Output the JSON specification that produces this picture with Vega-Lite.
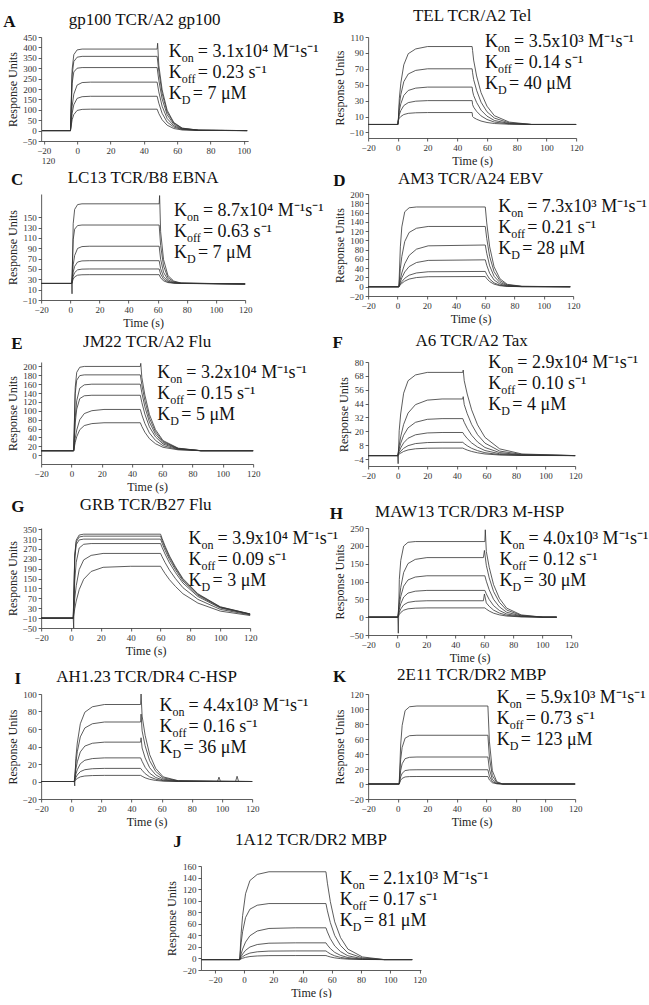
{
"$schema":"https://vega.github.io/schema/vega-lite/v6.json",
"background":"white",
"padding":{"left":3,"top":6,"right":0,"bottom":0},
"config":{
 "font":"Liberation Serif",
 "view":{"stroke":null},
 "axis":{"grid":false,"domainColor":"#333","domainWidth":0.8,"tickColor":"#333","tickSize":3,"tickWidth":0.8,"labelFont":"Liberation Serif","labelFontSize":9,"labelColor":"#333","labelPadding":2,"labelFlush":false,"labelOverlap":false,"labelBound":false,"titleFont":"Liberation Serif","titleFontSize":12,"titleFontWeight":"normal","titleColor":"#222","titlePadding":3},
 "title":{"font":"Liberation Serif","fontSize":17,"fontWeight":"normal","color":"#111","offset":-16,"frame":"group","anchor":"middle"},
 "line":{"color":"#333","strokeWidth":0.8},
 "text":{"font":"Liberation Serif","color":"#111","align":"left","baseline":"alphabetic","fontSize":18,"lineHeight":21}
},
"datasets":{
"A":[{"c":1,"t":-21,"y":0},{"c":1,"t":-4,"y":0},{"c":1,"t":-3,"y":294},{"c":1,"t":-2,"y":365},{"c":1,"t":0,"y":388},{"c":1,"t":3,"y":392},{"c":1,"t":48,"y":392},{"c":1,"t":48.3,"y":420},{"c":1,"t":49,"y":314},{"c":1,"t":51,"y":196},{"c":1,"t":54,"y":98},{"c":1,"t":58,"y":39},{"c":1,"t":63,"y":12},{"c":1,"t":73,"y":2},{"c":1,"t":102,"y":0},
{"c":2,"t":-21,"y":0},{"c":2,"t":-4,"y":0},{"c":2,"t":-3,"y":268},{"c":2,"t":-2,"y":332},{"c":2,"t":0,"y":353},{"c":2,"t":3,"y":357},{"c":2,"t":48,"y":357},{"c":2,"t":49,"y":286},{"c":2,"t":51,"y":179},{"c":2,"t":54,"y":89},{"c":2,"t":58,"y":36},{"c":2,"t":63,"y":11},{"c":2,"t":73,"y":2},{"c":2,"t":102,"y":0},
{"c":3,"t":-21,"y":0},{"c":3,"t":-4,"y":0},{"c":3,"t":-3,"y":227},{"c":3,"t":-2,"y":282},{"c":3,"t":0,"y":300},{"c":3,"t":3,"y":303},{"c":3,"t":48,"y":303},{"c":3,"t":49,"y":242},{"c":3,"t":51,"y":152},{"c":3,"t":54,"y":76},{"c":3,"t":58,"y":30},{"c":3,"t":63,"y":9},{"c":3,"t":73,"y":2},{"c":3,"t":102,"y":0},
{"c":4,"t":-21,"y":0},{"c":4,"t":-4,"y":0},{"c":4,"t":-3,"y":117},{"c":4,"t":-2,"y":175},{"c":4,"t":0,"y":219},{"c":4,"t":3,"y":231},{"c":4,"t":8,"y":233},{"c":4,"t":48,"y":233},{"c":4,"t":49,"y":186},{"c":4,"t":51,"y":117},{"c":4,"t":54,"y":58},{"c":4,"t":58,"y":23},{"c":4,"t":63,"y":7},{"c":4,"t":73,"y":1},{"c":4,"t":102,"y":0},
{"c":5,"t":-21,"y":0},{"c":5,"t":-4,"y":0},{"c":5,"t":-3,"y":83},{"c":5,"t":-2,"y":124},{"c":5,"t":0,"y":155},{"c":5,"t":3,"y":163},{"c":5,"t":8,"y":165},{"c":5,"t":48,"y":165},{"c":5,"t":49,"y":132},{"c":5,"t":51,"y":83},{"c":5,"t":54,"y":41},{"c":5,"t":58,"y":17},{"c":5,"t":63,"y":5},{"c":5,"t":73,"y":1},{"c":5,"t":102,"y":0},
{"c":6,"t":-21,"y":0},{"c":6,"t":-4,"y":0},{"c":6,"t":-3,"y":52},{"c":6,"t":-2,"y":77},{"c":6,"t":0,"y":97},{"c":6,"t":3,"y":102},{"c":6,"t":8,"y":103},{"c":6,"t":48,"y":103},{"c":6,"t":49,"y":82},{"c":6,"t":51,"y":52},{"c":6,"t":54,"y":26},{"c":6,"t":58,"y":10},{"c":6,"t":63,"y":3},{"c":6,"t":73,"y":1},{"c":6,"t":102,"y":0}],
"B":[{"c":1,"t":-20,"y":0},{"c":1,"t":0,"y":0},{"c":1,"t":0.3,"y":5},{"c":1,"t":1,"y":33},{"c":1,"t":2,"y":52},{"c":1,"t":4,"y":75},{"c":1,"t":7,"y":89},{"c":1,"t":12,"y":95},{"c":1,"t":20,"y":98},{"c":1,"t":50,"y":98},{"c":1,"t":50.3,"y":93},{"c":1,"t":51,"y":81},{"c":1,"t":53,"y":61},{"c":1,"t":56,"y":40},{"c":1,"t":60,"y":23},{"c":1,"t":65,"y":11},{"c":1,"t":75,"y":3},{"c":1,"t":90,"y":0},{"c":1,"t":120,"y":0},
{"c":2,"t":-20,"y":0},{"c":2,"t":0,"y":0},{"c":2,"t":0.3,"y":5},{"c":2,"t":1,"y":24.5},{"c":2,"t":2,"y":37.5},{"c":2,"t":4,"y":53.8},{"c":2,"t":7,"y":63.5},{"c":2,"t":12,"y":68},{"c":2,"t":20,"y":70},{"c":2,"t":50,"y":70},{"c":2,"t":50.3,"y":65},{"c":2,"t":51,"y":56.5},{"c":2,"t":53,"y":43},{"c":2,"t":56,"y":28},{"c":2,"t":60,"y":16},{"c":2,"t":65,"y":8},{"c":2,"t":75,"y":2},{"c":2,"t":90,"y":0},{"c":2,"t":120,"y":0},
{"c":3,"t":-20,"y":0},{"c":3,"t":0,"y":0},{"c":3,"t":0.3,"y":5},{"c":3,"t":1,"y":17.6},{"c":3,"t":2,"y":26},{"c":3,"t":4,"y":36.5},{"c":3,"t":7,"y":42.8},{"c":3,"t":12,"y":45.7},{"c":3,"t":20,"y":47},{"c":3,"t":50,"y":47},{"c":3,"t":50.3,"y":42},{"c":3,"t":51,"y":36.5},{"c":3,"t":53,"y":27.7},{"c":3,"t":56,"y":18},{"c":3,"t":60,"y":10.5},{"c":3,"t":65,"y":5},{"c":3,"t":75,"y":1.3},{"c":3,"t":90,"y":0},{"c":3,"t":120,"y":0},
{"c":4,"t":-20,"y":0},{"c":4,"t":0,"y":0},{"c":4,"t":0.3,"y":5},{"c":4,"t":1,"y":12.5},{"c":4,"t":2,"y":17.5},{"c":4,"t":4,"y":23.8},{"c":4,"t":7,"y":27.5},{"c":4,"t":12,"y":29.3},{"c":4,"t":20,"y":30},{"c":4,"t":50,"y":30},{"c":4,"t":50.3,"y":25},{"c":4,"t":51,"y":21.8},{"c":4,"t":53,"y":16.5},{"c":4,"t":56,"y":10.8},{"c":4,"t":60,"y":6.3},{"c":4,"t":65,"y":3},{"c":4,"t":75,"y":0.8},{"c":4,"t":90,"y":0},{"c":4,"t":120,"y":0},
{"c":5,"t":-20,"y":0},{"c":5,"t":0,"y":0},{"c":5,"t":0.3,"y":5},{"c":5,"t":1,"y":8},{"c":5,"t":2,"y":10},{"c":5,"t":4,"y":12.5},{"c":5,"t":7,"y":14},{"c":5,"t":12,"y":14.7},{"c":5,"t":20,"y":15},{"c":5,"t":50,"y":15},{"c":5,"t":50.3,"y":10},{"c":5,"t":51,"y":8.7},{"c":5,"t":53,"y":6.6},{"c":5,"t":56,"y":4.3},{"c":5,"t":60,"y":2.5},{"c":5,"t":65,"y":1.2},{"c":5,"t":75,"y":0.3},{"c":5,"t":90,"y":0},{"c":5,"t":120,"y":0}],
"C":[{"c":1,"t":-20,"y":22},{"c":1,"t":1,"y":22},{"c":1,"t":1.2,"y":2},{"c":1,"t":2,"y":137.5},{"c":1,"t":3,"y":165.2},{"c":1,"t":5,"y":174.5},{"c":1,"t":8,"y":176},{"c":1,"t":61,"y":176},{"c":1,"t":61.3,"y":192},{"c":1,"t":62,"y":122},{"c":1,"t":64,"y":68.2},{"c":1,"t":67,"y":37.4},{"c":1,"t":71,"y":26.6},{"c":1,"t":76,"y":22.8},{"c":1,"t":120,"y":21},
{"c":2,"t":-20,"y":22},{"c":2,"t":1,"y":22},{"c":2,"t":2,"y":106.8},{"c":2,"t":3,"y":127},{"c":2,"t":5,"y":133.9},{"c":2,"t":8,"y":135},{"c":2,"t":61,"y":135},{"c":2,"t":62,"y":95.5},{"c":2,"t":64,"y":55.9},{"c":2,"t":67,"y":33.3},{"c":2,"t":71,"y":25.4},{"c":2,"t":76,"y":22.6},{"c":2,"t":120,"y":21},
{"c":3,"t":-20,"y":22},{"c":3,"t":1,"y":22},{"c":3,"t":2,"y":58},{"c":3,"t":3,"y":76},{"c":3,"t":5,"y":89.7},{"c":3,"t":8,"y":93.3},{"c":3,"t":13,"y":94},{"c":3,"t":61,"y":94},{"c":3,"t":62,"y":68.8},{"c":3,"t":64,"y":43.6},{"c":3,"t":67,"y":29.2},{"c":3,"t":71,"y":24.2},{"c":3,"t":76,"y":22.4},{"c":3,"t":120,"y":21},
{"c":4,"t":-20,"y":22},{"c":4,"t":1,"y":22},{"c":4,"t":2,"y":44},{"c":4,"t":3,"y":55},{"c":4,"t":5,"y":63.4},{"c":4,"t":8,"y":65.6},{"c":4,"t":13,"y":66},{"c":4,"t":61,"y":66},{"c":4,"t":62,"y":50.6},{"c":4,"t":64,"y":35.2},{"c":4,"t":67,"y":26.4},{"c":4,"t":71,"y":23.3},{"c":4,"t":76,"y":22.2},{"c":4,"t":120,"y":21},
{"c":5,"t":-20,"y":22},{"c":5,"t":1,"y":22},{"c":5,"t":2,"y":36},{"c":5,"t":3,"y":43},{"c":5,"t":5,"y":48.3},{"c":5,"t":8,"y":49.7},{"c":5,"t":13,"y":50},{"c":5,"t":61,"y":50},{"c":5,"t":62,"y":40.2},{"c":5,"t":64,"y":30.4},{"c":5,"t":67,"y":24.8},{"c":5,"t":71,"y":22.8},{"c":5,"t":76,"y":22.1},{"c":5,"t":120,"y":21},
{"c":6,"t":-20,"y":22},{"c":6,"t":1,"y":22},{"c":6,"t":2,"y":30.5},{"c":6,"t":3,"y":34.8},{"c":6,"t":5,"y":38},{"c":6,"t":8,"y":38.8},{"c":6,"t":13,"y":39},{"c":6,"t":61,"y":39},{"c":6,"t":62,"y":33},{"c":6,"t":64,"y":27},{"c":6,"t":67,"y":23.7},{"c":6,"t":71,"y":22.5},{"c":6,"t":76,"y":22},{"c":6,"t":120,"y":21}],
"D":[{"c":1,"t":-20,"y":0},{"c":1,"t":1,"y":0},{"c":1,"t":2,"y":86},{"c":1,"t":3,"y":129},{"c":1,"t":5,"y":161.7},{"c":1,"t":8,"y":170.3},{"c":1,"t":13,"y":172},{"c":1,"t":60,"y":172},{"c":1,"t":61,"y":137.6},{"c":1,"t":63,"y":86},{"c":1,"t":66,"y":43},{"c":1,"t":70,"y":17.2},{"c":1,"t":75,"y":5.2},{"c":1,"t":85,"y":0.9},{"c":1,"t":118,"y":0},
{"c":2,"t":-20,"y":0},{"c":2,"t":1,"y":0},{"c":2,"t":2,"y":39},{"c":2,"t":3,"y":65},{"c":2,"t":5,"y":97.5},{"c":2,"t":8,"y":117},{"c":2,"t":13,"y":126.1},{"c":2,"t":21,"y":130},{"c":2,"t":60,"y":130},{"c":2,"t":61,"y":104},{"c":2,"t":63,"y":65},{"c":2,"t":66,"y":32.5},{"c":2,"t":70,"y":13},{"c":2,"t":75,"y":3.9},{"c":2,"t":85,"y":0.7},{"c":2,"t":118,"y":0},
{"c":3,"t":-20,"y":0},{"c":3,"t":1,"y":0},{"c":3,"t":2,"y":16.2},{"c":3,"t":3,"y":29.7},{"c":3,"t":5,"y":49.5},{"c":3,"t":8,"y":67.5},{"c":3,"t":13,"y":81},{"c":3,"t":21,"y":88.2},{"c":3,"t":60,"y":90},{"c":3,"t":61,"y":72},{"c":3,"t":63,"y":45},{"c":3,"t":66,"y":22.5},{"c":3,"t":70,"y":9},{"c":3,"t":75,"y":2.7},{"c":3,"t":85,"y":0.5},{"c":3,"t":118,"y":0},
{"c":4,"t":-20,"y":0},{"c":4,"t":1,"y":0},{"c":4,"t":2,"y":10.4},{"c":4,"t":3,"y":19.1},{"c":4,"t":5,"y":31.9},{"c":4,"t":8,"y":43.5},{"c":4,"t":13,"y":52.2},{"c":4,"t":21,"y":56.8},{"c":4,"t":60,"y":58},{"c":4,"t":61,"y":46.4},{"c":4,"t":63,"y":29},{"c":4,"t":66,"y":14.5},{"c":4,"t":70,"y":5.8},{"c":4,"t":75,"y":1.7},{"c":4,"t":85,"y":0.3},{"c":4,"t":118,"y":0},
{"c":5,"t":-20,"y":0},{"c":5,"t":1,"y":0},{"c":5,"t":2,"y":5.9},{"c":5,"t":3,"y":10.9},{"c":5,"t":5,"y":18.2},{"c":5,"t":8,"y":24.8},{"c":5,"t":13,"y":29.7},{"c":5,"t":21,"y":32.3},{"c":5,"t":60,"y":33},{"c":5,"t":61,"y":26.4},{"c":5,"t":63,"y":16.5},{"c":5,"t":66,"y":8.3},{"c":5,"t":70,"y":3.3},{"c":5,"t":75,"y":1},{"c":5,"t":85,"y":0.2},{"c":5,"t":118,"y":0},
{"c":6,"t":-20,"y":0},{"c":6,"t":1,"y":0},{"c":6,"t":2,"y":4},{"c":6,"t":3,"y":7.3},{"c":6,"t":5,"y":12.1},{"c":6,"t":8,"y":16.5},{"c":6,"t":13,"y":19.8},{"c":6,"t":21,"y":21.6},{"c":6,"t":60,"y":22},{"c":6,"t":61,"y":17.6},{"c":6,"t":63,"y":11},{"c":6,"t":66,"y":5.5},{"c":6,"t":70,"y":2.2},{"c":6,"t":75,"y":0.7},{"c":6,"t":85,"y":0.1},{"c":6,"t":118,"y":0}],
"E":[{"c":1,"t":-20,"y":10},{"c":1,"t":1.5,"y":10},{"c":1,"t":2.5,"y":152.5},{"c":1,"t":3.5,"y":186.7},{"c":1,"t":5.5,"y":198.1},{"c":1,"t":8.5,"y":200},{"c":1,"t":45.5,"y":200},{"c":1,"t":45.8,"y":207},{"c":1,"t":46.5,"y":175.3},{"c":1,"t":48.5,"y":135.4},{"c":1,"t":51.5,"y":91.7},{"c":1,"t":55.5,"y":57.5},{"c":1,"t":60.5,"y":32.8},{"c":1,"t":70.5,"y":15.7},{"c":1,"t":85.5,"y":10},{"c":1,"t":120,"y":10},
{"c":2,"t":-20,"y":10},{"c":2,"t":1.5,"y":10},{"c":2,"t":2.5,"y":138.3},{"c":2,"t":3.5,"y":169},{"c":2,"t":5.5,"y":179.3},{"c":2,"t":8.5,"y":181},{"c":2,"t":45.5,"y":181},{"c":2,"t":46.5,"y":158.8},{"c":2,"t":48.5,"y":122.9},{"c":2,"t":51.5,"y":83.5},{"c":2,"t":55.5,"y":52.8},{"c":2,"t":60.5,"y":30.5},{"c":2,"t":70.5,"y":15.1},{"c":2,"t":85.5,"y":10},{"c":2,"t":120,"y":10},
{"c":3,"t":-20,"y":10},{"c":3,"t":1.5,"y":10},{"c":3,"t":2.5,"y":85},{"c":3,"t":3.5,"y":122.5},{"c":3,"t":5.5,"y":151},{"c":3,"t":8.5,"y":158.5},{"c":3,"t":13.5,"y":160},{"c":3,"t":45.5,"y":160},{"c":3,"t":46.5,"y":140.5},{"c":3,"t":48.5,"y":109},{"c":3,"t":51.5,"y":74.5},{"c":3,"t":55.5,"y":47.5},{"c":3,"t":60.5,"y":28},{"c":3,"t":70.5,"y":14.5},{"c":3,"t":85.5,"y":10},{"c":3,"t":120,"y":10},
{"c":4,"t":-20,"y":10},{"c":4,"t":1.5,"y":10},{"c":4,"t":2.5,"y":72.5},{"c":4,"t":3.5,"y":103.8},{"c":4,"t":5.5,"y":127.5},{"c":4,"t":8.5,"y":133.8},{"c":4,"t":13.5,"y":135},{"c":4,"t":45.5,"y":135},{"c":4,"t":46.5,"y":118.8},{"c":4,"t":48.5,"y":92.5},{"c":4,"t":51.5,"y":63.8},{"c":4,"t":55.5,"y":41.3},{"c":4,"t":60.5,"y":25},{"c":4,"t":70.5,"y":13.8},{"c":4,"t":85.5,"y":10},{"c":4,"t":120,"y":10},
{"c":5,"t":-20,"y":10},{"c":5,"t":1.5,"y":10},{"c":5,"t":2.5,"y":37.9},{"c":5,"t":3.5,"y":56.5},{"c":5,"t":5.5,"y":79.8},{"c":5,"t":8.5,"y":93.7},{"c":5,"t":13.5,"y":100.2},{"c":5,"t":21.5,"y":103},{"c":5,"t":45.5,"y":103},{"c":5,"t":46.5,"y":90.9},{"c":5,"t":48.5,"y":71.4},{"c":5,"t":51.5,"y":50},{"c":5,"t":55.5,"y":33.3},{"c":5,"t":60.5,"y":21.2},{"c":5,"t":70.5,"y":12.8},{"c":5,"t":85.5,"y":10},{"c":5,"t":120,"y":10},
{"c":6,"t":-20,"y":10},{"c":6,"t":1.5,"y":10},{"c":6,"t":2.5,"y":28.9},{"c":6,"t":3.5,"y":41.5},{"c":6,"t":5.5,"y":57.3},{"c":6,"t":8.5,"y":66.7},{"c":6,"t":13.5,"y":71.1},{"c":6,"t":21.5,"y":73},{"c":6,"t":45.5,"y":73},{"c":6,"t":46.5,"y":64.8},{"c":6,"t":48.5,"y":51.6},{"c":6,"t":51.5,"y":37.1},{"c":6,"t":55.5,"y":25.8},{"c":6,"t":60.5,"y":17.6},{"c":6,"t":70.5,"y":11.9},{"c":6,"t":85.5,"y":10},{"c":6,"t":120,"y":10}],
"F":[{"c":1,"t":-20,"y":-1},{"c":1,"t":0,"y":-1},{"c":1,"t":0.3,"y":-8},{"c":1,"t":1,"y":20.6},{"c":1,"t":2,"y":35},{"c":1,"t":4,"y":53},{"c":1,"t":7,"y":63.8},{"c":1,"t":12,"y":68.8},{"c":1,"t":20,"y":71},{"c":1,"t":44,"y":71},{"c":1,"t":44.3,"y":73},{"c":1,"t":45,"y":63.8},{"c":1,"t":47,"y":52.3},{"c":1,"t":50,"y":38.6},{"c":1,"t":54,"y":25.6},{"c":1,"t":59,"y":14.8},{"c":1,"t":69,"y":4.8},{"c":1,"t":84,"y":0.4},{"c":1,"t":120,"y":-1},
{"c":2,"t":-20,"y":-1},{"c":2,"t":0,"y":-1},{"c":2,"t":1,"y":7.8},{"c":2,"t":2,"y":15.2},{"c":2,"t":4,"y":26},{"c":2,"t":7,"y":35.8},{"c":2,"t":12,"y":43.1},{"c":2,"t":20,"y":47},{"c":2,"t":30,"y":48},{"c":2,"t":44,"y":48},{"c":2,"t":44.3,"y":50},{"c":2,"t":45,"y":43.1},{"c":2,"t":47,"y":35.3},{"c":2,"t":50,"y":26},{"c":2,"t":54,"y":17.1},{"c":2,"t":59,"y":9.8},{"c":2,"t":69,"y":2.9},{"c":2,"t":84,"y":0},{"c":2,"t":120,"y":-1},
{"c":3,"t":-20,"y":-1},{"c":3,"t":0,"y":-1},{"c":3,"t":1,"y":4.8},{"c":3,"t":2,"y":9.6},{"c":3,"t":4,"y":16.6},{"c":3,"t":7,"y":23},{"c":3,"t":12,"y":27.8},{"c":3,"t":20,"y":30.4},{"c":3,"t":30,"y":31},{"c":3,"t":44,"y":31},{"c":3,"t":45,"y":27.8},{"c":3,"t":47,"y":22.7},{"c":3,"t":50,"y":16.6},{"c":3,"t":54,"y":10.8},{"c":3,"t":59,"y":6},{"c":3,"t":69,"y":1.6},{"c":3,"t":84,"y":-0.4},{"c":3,"t":120,"y":-1},
{"c":4,"t":-20,"y":-1},{"c":4,"t":0,"y":-1},{"c":4,"t":1,"y":2.6},{"c":4,"t":2,"y":5.6},{"c":4,"t":4,"y":10},{"c":4,"t":7,"y":14},{"c":4,"t":12,"y":17},{"c":4,"t":20,"y":18.6},{"c":4,"t":30,"y":19},{"c":4,"t":44,"y":19},{"c":4,"t":45,"y":17},{"c":4,"t":47,"y":13.8},{"c":4,"t":50,"y":10},{"c":4,"t":54,"y":6.4},{"c":4,"t":59,"y":3.4},{"c":4,"t":69,"y":0.6},{"c":4,"t":84,"y":-0.6},{"c":4,"t":120,"y":-1},
{"c":5,"t":-20,"y":-1},{"c":5,"t":0,"y":-1},{"c":5,"t":1,"y":1.1},{"c":5,"t":2,"y":2.8},{"c":5,"t":4,"y":5.3},{"c":5,"t":7,"y":7.6},{"c":5,"t":12,"y":9.4},{"c":5,"t":20,"y":10.3},{"c":5,"t":30,"y":10.5},{"c":5,"t":44,"y":10.5},{"c":5,"t":45,"y":9.4},{"c":5,"t":47,"y":7.5},{"c":5,"t":50,"y":5.3},{"c":5,"t":54,"y":3.3},{"c":5,"t":59,"y":1.5},{"c":5,"t":69,"y":-0.1},{"c":5,"t":84,"y":-0.8},{"c":5,"t":120,"y":-1},
{"c":6,"t":-20,"y":-1},{"c":6,"t":0,"y":-1},{"c":6,"t":1,"y":0.2},{"c":6,"t":2,"y":1.1},{"c":6,"t":4,"y":2.6},{"c":6,"t":7,"y":3.9},{"c":6,"t":12,"y":4.9},{"c":6,"t":20,"y":5.4},{"c":6,"t":30,"y":5.5},{"c":6,"t":44,"y":5.5},{"c":6,"t":45,"y":4.9},{"c":6,"t":47,"y":3.8},{"c":6,"t":50,"y":2.6},{"c":6,"t":54,"y":1.4},{"c":6,"t":59,"y":0.4},{"c":6,"t":69,"y":-0.5},{"c":6,"t":84,"y":-0.9},{"c":6,"t":120,"y":-1}],
"G":[{"c":1,"t":-20,"y":-10},{"c":1,"t":1.5,"y":-10},{"c":1,"t":1.8,"y":-50},{"c":1,"t":2.5,"y":245},{"c":1,"t":3.5,"y":306.2},{"c":1,"t":5.5,"y":326.6},{"c":1,"t":8.5,"y":330},{"c":1,"t":60,"y":330},{"c":1,"t":61,"y":313},{"c":1,"t":63,"y":282.4},{"c":1,"t":66,"y":241.6},{"c":1,"t":70,"y":197.4},{"c":1,"t":75,"y":149.8},{"c":1,"t":85,"y":88.6},{"c":1,"t":100,"y":35.9},{"c":1,"t":120,"y":7},
{"c":2,"t":-20,"y":-10},{"c":2,"t":1.5,"y":-10},{"c":2,"t":2.5,"y":239},{"c":2,"t":3.5,"y":298.8},{"c":2,"t":5.5,"y":318.7},{"c":2,"t":8.5,"y":322},{"c":2,"t":60,"y":322},{"c":2,"t":61,"y":305.4},{"c":2,"t":63,"y":275.5},{"c":2,"t":66,"y":235.7},{"c":2,"t":70,"y":192.5},{"c":2,"t":75,"y":146},{"c":2,"t":85,"y":86.3},{"c":2,"t":100,"y":34.8},{"c":2,"t":120,"y":6.6},
{"c":3,"t":-20,"y":-10},{"c":3,"t":1.5,"y":-10},{"c":3,"t":2.5,"y":230},{"c":3,"t":3.5,"y":287.6},{"c":3,"t":5.5,"y":306.8},{"c":3,"t":8.5,"y":310},{"c":3,"t":60,"y":310},{"c":3,"t":61,"y":294},{"c":3,"t":63,"y":265.2},{"c":3,"t":66,"y":226.8},{"c":3,"t":70,"y":185.2},{"c":3,"t":75,"y":140.4},{"c":3,"t":85,"y":82.8},{"c":3,"t":100,"y":33.2},{"c":3,"t":120,"y":6},
{"c":4,"t":-20,"y":-10},{"c":4,"t":1.5,"y":-10},{"c":4,"t":2.5,"y":141},{"c":4,"t":3.5,"y":216.5},{"c":4,"t":5.5,"y":273.9},{"c":4,"t":8.5,"y":289},{"c":4,"t":13.5,"y":292},{"c":4,"t":60,"y":292},{"c":4,"t":61,"y":276.9},{"c":4,"t":63,"y":249.7},{"c":4,"t":66,"y":213.5},{"c":4,"t":70,"y":174.2},{"c":4,"t":75,"y":132},{"c":4,"t":85,"y":77.6},{"c":4,"t":100,"y":30.8},{"c":4,"t":120,"y":5.1},
{"c":5,"t":-20,"y":-10},{"c":5,"t":1.5,"y":-10},{"c":5,"t":2.5,"y":68.6},{"c":5,"t":3.5,"y":121},{"c":5,"t":5.5,"y":186.5},{"c":5,"t":8.5,"y":225.8},{"c":5,"t":13.5,"y":244.1},{"c":5,"t":21.5,"y":252},{"c":5,"t":60,"y":252},{"c":5,"t":61,"y":238.9},{"c":5,"t":63,"y":215.3},{"c":5,"t":66,"y":183.9},{"c":5,"t":70,"y":149.8},{"c":5,"t":75,"y":113.1},{"c":5,"t":85,"y":66},{"c":5,"t":100,"y":25.4},{"c":5,"t":120,"y":3.1},
{"c":6,"t":-20,"y":-10},{"c":6,"t":1.5,"y":-10},{"c":6,"t":2.5,"y":27.8},{"c":6,"t":3.5,"y":59.3},{"c":6,"t":5.5,"y":105.5},{"c":6,"t":8.5,"y":147.5},{"c":6,"t":13.5,"y":179},{"c":6,"t":21.5,"y":195.8},{"c":6,"t":40,"y":200},{"c":6,"t":60,"y":200},{"c":6,"t":61,"y":189.5},{"c":6,"t":63,"y":170.6},{"c":6,"t":66,"y":145.4},{"c":6,"t":70,"y":118.1},{"c":6,"t":75,"y":88.7},{"c":6,"t":85,"y":50.9},{"c":6,"t":100,"y":18.4},{"c":6,"t":120,"y":0.5}],
"H":[{"c":1,"t":-20,"y":0},{"c":1,"t":0.5,"y":0},{"c":1,"t":0.8,"y":-45},{"c":1,"t":1.5,"y":106},{"c":1,"t":2.5,"y":159},{"c":1,"t":4.5,"y":199.3},{"c":1,"t":7.5,"y":209.9},{"c":1,"t":12.5,"y":212},{"c":1,"t":60.5,"y":212},{"c":1,"t":60.8,"y":245},{"c":1,"t":61.5,"y":184.4},{"c":1,"t":63.5,"y":139.9},{"c":1,"t":66.5,"y":91.2},{"c":1,"t":70.5,"y":53},{"c":1,"t":75.5,"y":25.4},{"c":1,"t":85.5,"y":6.4},{"c":1,"t":100.5,"y":0},{"c":1,"t":110,"y":0},
{"c":2,"t":-20,"y":0},{"c":2,"t":0.5,"y":0},{"c":2,"t":1.5,"y":50.1},{"c":2,"t":2.5,"y":83.5},{"c":2,"t":4.5,"y":125.3},{"c":2,"t":7.5,"y":150.3},{"c":2,"t":12.5,"y":162},{"c":2,"t":20.5,"y":167},{"c":2,"t":59.5,"y":167},{"c":2,"t":60.2,"y":187},{"c":2,"t":61.5,"y":145.3},{"c":2,"t":63.5,"y":110.2},{"c":2,"t":66.5,"y":71.8},{"c":2,"t":70.5,"y":41.8},{"c":2,"t":75.5,"y":20},{"c":2,"t":85.5,"y":5},{"c":2,"t":100.5,"y":0},{"c":2,"t":110,"y":0},
{"c":3,"t":-20,"y":0},{"c":3,"t":0.5,"y":0},{"c":3,"t":1.5,"y":34.8},{"c":3,"t":2.5,"y":58},{"c":3,"t":4.5,"y":87},{"c":3,"t":7.5,"y":104.4},{"c":3,"t":12.5,"y":112.5},{"c":3,"t":20.5,"y":116},{"c":3,"t":60.5,"y":116},{"c":3,"t":61.5,"y":100.9},{"c":3,"t":63.5,"y":76.6},{"c":3,"t":66.5,"y":49.9},{"c":3,"t":70.5,"y":29},{"c":3,"t":75.5,"y":13.9},{"c":3,"t":85.5,"y":3.5},{"c":3,"t":100.5,"y":0},{"c":3,"t":110,"y":0},
{"c":4,"t":-20,"y":0},{"c":4,"t":0.5,"y":0},{"c":4,"t":1.5,"y":22.5},{"c":4,"t":2.5,"y":37.5},{"c":4,"t":4.5,"y":56.3},{"c":4,"t":7.5,"y":67.5},{"c":4,"t":12.5,"y":72.8},{"c":4,"t":20.5,"y":75},{"c":4,"t":60.5,"y":75},{"c":4,"t":61.5,"y":65.3},{"c":4,"t":63.5,"y":49.5},{"c":4,"t":66.5,"y":32.3},{"c":4,"t":70.5,"y":18.8},{"c":4,"t":75.5,"y":9},{"c":4,"t":85.5,"y":2.3},{"c":4,"t":100.5,"y":0},{"c":4,"t":110,"y":0},
{"c":5,"t":-20,"y":0},{"c":5,"t":0.5,"y":0},{"c":5,"t":1.5,"y":13.8},{"c":5,"t":2.5,"y":23},{"c":5,"t":4.5,"y":34.5},{"c":5,"t":7.5,"y":41.4},{"c":5,"t":12.5,"y":44.6},{"c":5,"t":20.5,"y":46},{"c":5,"t":59.5,"y":46},{"c":5,"t":60.2,"y":65},{"c":5,"t":61.5,"y":40},{"c":5,"t":63.5,"y":30.4},{"c":5,"t":66.5,"y":19.8},{"c":5,"t":70.5,"y":11.5},{"c":5,"t":75.5,"y":5.5},{"c":5,"t":85.5,"y":1.4},{"c":5,"t":100.5,"y":0},{"c":5,"t":110,"y":0},
{"c":6,"t":-20,"y":0},{"c":6,"t":0.5,"y":0},{"c":6,"t":1.5,"y":7.8},{"c":6,"t":2.5,"y":13},{"c":6,"t":4.5,"y":19.5},{"c":6,"t":7.5,"y":23.4},{"c":6,"t":12.5,"y":25.2},{"c":6,"t":20.5,"y":26},{"c":6,"t":60.5,"y":26},{"c":6,"t":61.5,"y":22.6},{"c":6,"t":63.5,"y":17.2},{"c":6,"t":66.5,"y":11.2},{"c":6,"t":70.5,"y":6.5},{"c":6,"t":75.5,"y":3.1},{"c":6,"t":85.5,"y":0.8},{"c":6,"t":100.5,"y":0},{"c":6,"t":110,"y":0}],
"I":[{"c":1,"t":-20,"y":0},{"c":1,"t":2,"y":0},{"c":1,"t":2.3,"y":-5},{"c":1,"t":3,"y":26.4},{"c":1,"t":4,"y":44},{"c":1,"t":6,"y":66},{"c":1,"t":9,"y":79.2},{"c":1,"t":14,"y":85.4},{"c":1,"t":22,"y":88},{"c":1,"t":46,"y":88},{"c":1,"t":46.3,"y":100},{"c":1,"t":47,"y":74.8},{"c":1,"t":49,"y":52.8},{"c":1,"t":52,"y":30.8},{"c":1,"t":56,"y":15},{"c":1,"t":61,"y":5.3},{"c":1,"t":71,"y":0.9},{"c":1,"t":97,"y":0},{"c":1,"t":98,"y":5},{"c":1,"t":99,"y":0},{"c":1,"t":109,"y":0},{"c":1,"t":110,"y":6},{"c":1,"t":111,"y":0},{"c":1,"t":120,"y":0},
{"c":2,"t":-20,"y":0},{"c":2,"t":2,"y":0},{"c":2,"t":3,"y":20.4},{"c":2,"t":4,"y":34},{"c":2,"t":6,"y":51},{"c":2,"t":9,"y":61.2},{"c":2,"t":14,"y":66},{"c":2,"t":22,"y":68},{"c":2,"t":46,"y":68},{"c":2,"t":46.3,"y":77},{"c":2,"t":47,"y":57.8},{"c":2,"t":49,"y":40.8},{"c":2,"t":52,"y":23.8},{"c":2,"t":56,"y":11.6},{"c":2,"t":61,"y":4.1},{"c":2,"t":71,"y":0.7},{"c":2,"t":120,"y":0},
{"c":3,"t":-20,"y":0},{"c":3,"t":2,"y":0},{"c":3,"t":3,"y":13.5},{"c":3,"t":4,"y":22.5},{"c":3,"t":6,"y":33.8},{"c":3,"t":9,"y":40.5},{"c":3,"t":14,"y":43.7},{"c":3,"t":22,"y":45},{"c":3,"t":46,"y":45},{"c":3,"t":46.3,"y":50},{"c":3,"t":47,"y":38.3},{"c":3,"t":49,"y":27},{"c":3,"t":52,"y":15.8},{"c":3,"t":56,"y":7.7},{"c":3,"t":61,"y":2.7},{"c":3,"t":71,"y":0.5},{"c":3,"t":120,"y":0},
{"c":4,"t":-20,"y":0},{"c":4,"t":2,"y":0},{"c":4,"t":3,"y":8.1},{"c":4,"t":4,"y":13.5},{"c":4,"t":6,"y":20.3},{"c":4,"t":9,"y":24.3},{"c":4,"t":14,"y":26.2},{"c":4,"t":22,"y":27},{"c":4,"t":46,"y":27},{"c":4,"t":47,"y":23},{"c":4,"t":49,"y":16.2},{"c":4,"t":52,"y":9.5},{"c":4,"t":56,"y":4.6},{"c":4,"t":61,"y":1.6},{"c":4,"t":71,"y":0.3},{"c":4,"t":120,"y":0},
{"c":5,"t":-20,"y":0},{"c":5,"t":2,"y":0},{"c":5,"t":3,"y":4.5},{"c":5,"t":4,"y":7.5},{"c":5,"t":6,"y":11.3},{"c":5,"t":9,"y":13.5},{"c":5,"t":14,"y":14.6},{"c":5,"t":22,"y":15},{"c":5,"t":46,"y":15},{"c":5,"t":47,"y":12.8},{"c":5,"t":49,"y":9},{"c":5,"t":52,"y":5.3},{"c":5,"t":56,"y":2.6},{"c":5,"t":61,"y":0.9},{"c":5,"t":71,"y":0.2},{"c":5,"t":120,"y":0},
{"c":6,"t":-20,"y":0},{"c":6,"t":2,"y":0},{"c":6,"t":3,"y":2.1},{"c":6,"t":4,"y":3.5},{"c":6,"t":6,"y":5.3},{"c":6,"t":9,"y":6.3},{"c":6,"t":14,"y":6.8},{"c":6,"t":22,"y":7},{"c":6,"t":46,"y":7},{"c":6,"t":47,"y":6},{"c":6,"t":49,"y":4.2},{"c":6,"t":52,"y":2.5},{"c":6,"t":56,"y":1.2},{"c":6,"t":61,"y":0.4},{"c":6,"t":71,"y":0},{"c":6,"t":120,"y":0}],
"K":[{"c":1,"t":-20,"y":0},{"c":1,"t":1,"y":0},{"c":1,"t":2,"y":52},{"c":1,"t":3,"y":78},{"c":1,"t":5,"y":97.8},{"c":1,"t":8,"y":103},{"c":1,"t":13,"y":104},{"c":1,"t":61,"y":104},{"c":1,"t":62,"y":57.2},{"c":1,"t":64,"y":17.7},{"c":1,"t":67,"y":3.1},{"c":1,"t":71,"y":0},{"c":1,"t":120,"y":0},
{"c":2,"t":-20,"y":0},{"c":2,"t":1,"y":0},{"c":2,"t":2,"y":32.5},{"c":2,"t":3,"y":48.8},{"c":2,"t":5,"y":61.1},{"c":2,"t":8,"y":64.4},{"c":2,"t":13,"y":65},{"c":2,"t":61,"y":65},{"c":2,"t":62,"y":35.8},{"c":2,"t":64,"y":11},{"c":2,"t":67,"y":2},{"c":2,"t":71,"y":0},{"c":2,"t":120,"y":0},
{"c":3,"t":-20,"y":0},{"c":3,"t":1,"y":0},{"c":3,"t":2,"y":18},{"c":3,"t":3,"y":27},{"c":3,"t":5,"y":33.8},{"c":3,"t":8,"y":35.6},{"c":3,"t":13,"y":36},{"c":3,"t":61,"y":36},{"c":3,"t":62,"y":19.8},{"c":3,"t":64,"y":6.1},{"c":3,"t":67,"y":1.1},{"c":3,"t":71,"y":0},{"c":3,"t":120,"y":0},
{"c":4,"t":-20,"y":0},{"c":4,"t":1,"y":0},{"c":4,"t":2,"y":9.5},{"c":4,"t":3,"y":14.3},{"c":4,"t":5,"y":17.9},{"c":4,"t":8,"y":18.8},{"c":4,"t":13,"y":19},{"c":4,"t":61,"y":19},{"c":4,"t":62,"y":10.5},{"c":4,"t":64,"y":3.2},{"c":4,"t":67,"y":0.6},{"c":4,"t":71,"y":0},{"c":4,"t":120,"y":0},
{"c":5,"t":-20,"y":0},{"c":5,"t":1,"y":0},{"c":5,"t":2,"y":5},{"c":5,"t":3,"y":7.5},{"c":5,"t":5,"y":9.4},{"c":5,"t":8,"y":9.9},{"c":5,"t":13,"y":10},{"c":5,"t":61,"y":10},{"c":5,"t":62,"y":5.5},{"c":5,"t":64,"y":1.7},{"c":5,"t":67,"y":0.3},{"c":5,"t":71,"y":0},{"c":5,"t":120,"y":0}],
"J":[{"c":1,"t":-29,"y":-2},{"c":1,"t":-3,"y":-2},{"c":1,"t":-2,"y":43.6},{"c":1,"t":-1,"y":74},{"c":1,"t":1,"y":112},{"c":1,"t":4,"y":134.8},{"c":1,"t":9,"y":145.4},{"c":1,"t":17,"y":150},{"c":1,"t":56,"y":150},{"c":1,"t":57,"y":130.2},{"c":1,"t":59,"y":98.3},{"c":1,"t":62,"y":63.4},{"c":1,"t":66,"y":36},{"c":1,"t":71,"y":16.2},{"c":1,"t":81,"y":2.6},{"c":1,"t":96,"y":-2},{"c":1,"t":115,"y":-2},
{"c":2,"t":-29,"y":-2},{"c":2,"t":-3,"y":-2},{"c":2,"t":-2,"y":27.1},{"c":2,"t":-1,"y":46.5},{"c":2,"t":1,"y":70.8},{"c":2,"t":4,"y":85.3},{"c":2,"t":9,"y":92.1},{"c":2,"t":17,"y":95},{"c":2,"t":56,"y":95},{"c":2,"t":57,"y":82.4},{"c":2,"t":59,"y":62},{"c":2,"t":62,"y":39.7},{"c":2,"t":66,"y":22.3},{"c":2,"t":71,"y":9.6},{"c":2,"t":81,"y":0.9},{"c":2,"t":96,"y":-2},{"c":2,"t":115,"y":-2},
{"c":3,"t":-29,"y":-2},{"c":3,"t":-3,"y":-2},{"c":3,"t":-2,"y":7.9},{"c":3,"t":-1,"y":16.2},{"c":3,"t":1,"y":28.3},{"c":3,"t":4,"y":39.3},{"c":3,"t":9,"y":47.5},{"c":3,"t":17,"y":51.9},{"c":3,"t":35,"y":53},{"c":3,"t":56,"y":53},{"c":3,"t":57,"y":45.9},{"c":3,"t":59,"y":34.3},{"c":3,"t":62,"y":21.7},{"c":3,"t":66,"y":11.8},{"c":3,"t":71,"y":4.6},{"c":3,"t":81,"y":-0.4},{"c":3,"t":96,"y":-2},{"c":3,"t":115,"y":-2},
{"c":4,"t":-29,"y":-2},{"c":4,"t":-3,"y":-2},{"c":4,"t":-2,"y":3.2},{"c":4,"t":-1,"y":7.6},{"c":4,"t":1,"y":14},{"c":4,"t":4,"y":19.8},{"c":4,"t":9,"y":24.1},{"c":4,"t":17,"y":26.4},{"c":4,"t":35,"y":27},{"c":4,"t":56,"y":27},{"c":4,"t":57,"y":23.2},{"c":4,"t":59,"y":17.1},{"c":4,"t":62,"y":10.5},{"c":4,"t":66,"y":5.3},{"c":4,"t":71,"y":1.5},{"c":4,"t":81,"y":-1.1},{"c":4,"t":96,"y":-2},{"c":4,"t":115,"y":-2},
{"c":5,"t":-29,"y":-2},{"c":5,"t":-3,"y":-2},{"c":5,"t":-2,"y":0.7},{"c":5,"t":-1,"y":3},{"c":5,"t":1,"y":6.3},{"c":5,"t":4,"y":9.3},{"c":5,"t":9,"y":11.5},{"c":5,"t":17,"y":12.7},{"c":5,"t":35,"y":13},{"c":5,"t":56,"y":13},{"c":5,"t":57,"y":11.1},{"c":5,"t":59,"y":7.9},{"c":5,"t":62,"y":4.5},{"c":5,"t":66,"y":1.8},{"c":5,"t":71,"y":-0.2},{"c":5,"t":81,"y":-1.6},{"c":5,"t":96,"y":-2},{"c":5,"t":115,"y":-2},
{"c":6,"t":-29,"y":-2},{"c":6,"t":-3,"y":-2},{"c":6,"t":-2,"y":-0.7},{"c":6,"t":-1,"y":0.3},{"c":6,"t":1,"y":1.9},{"c":6,"t":4,"y":3.3},{"c":6,"t":9,"y":4.3},{"c":6,"t":17,"y":4.9},{"c":6,"t":35,"y":5},{"c":6,"t":56,"y":5},{"c":6,"t":57,"y":4.1},{"c":6,"t":59,"y":2.6},{"c":6,"t":62,"y":1},{"c":6,"t":66,"y":-0.3},{"c":6,"t":71,"y":-1.2},{"c":6,"t":81,"y":-1.8},{"c":6,"t":96,"y":-2},{"c":6,"t":115,"y":-2}]
},
"spacing":3,
"center":true,
"vconcat":[
{"columns":2,"spacing":{"row":3,"column":-14},"concat":[
{"width":207,"height":104,"title":"gp100 TCR/A2 gp100",
 "encoding":{"x":{"field":"t","type":"quantitative","scale":{"domain":[-21.6,102.6],"nice":false,"zero":false},"axis":{"values":[-20,0,20,40,60,80,100],"labelOverlap":false,"title":"120","titleAnchor":"start","titleFontSize":9,"titleColor":"#333","titlePadding":1}},"y":{"field":"y","type":"quantitative","scale":{"domain":[-50,450],"nice":false,"zero":false},"axis":{"values":[-50,0,50,100,150,200,250,300,350,400,450],"labelOverlap":false,"title":"Response Units"}}},
 "layer":[
 {"data":{"name":"A"},"mark":"line","encoding":{"detail":{"field":"c","type":"nominal"}}},
 {"data":{"values":[{"t":-44.4,"y":498,"s":"A"}]},"mark":{"type":"text","fontSize":17,"fontWeight":"bold"},"encoding":{"text":{"field":"s"}}},
 {"data":{"values":[{"t":55,"y":354,"on":"=  3.1x10⁴ M⁻¹s⁻¹","off":"= 0.23 s⁻¹","kd":"= 7 μM"}]},"layer":[
  {"mark":{"type":"text","text":["K","K","K"]}},
  {"mark":{"type":"text","fontSize":12,"dx":13,"dy":5,"text":["on","off","D"]}},
  {"mark":{"type":"text","dx":29},"encoding":{"text":{"field":"on"}}},
  {"mark":{"type":"text","dx":29,"dy":21},"encoding":{"text":{"field":"off"}}},
  {"mark":{"type":"text","dx":24,"dy":42},"encoding":{"text":{"field":"kd"}}}]}]},
{"width":208,"height":101,"title":"TEL TCR/A2 Tel",
 "encoding":{"x":{"field":"t","type":"quantitative","scale":{"domain":[-20,120],"nice":false,"zero":false},"axis":{"values":[-20,0,20,40,60,80,100,120],"labelOverlap":false,"title":"Time (s)"}},"y":{"field":"y","type":"quantitative","scale":{"domain":[-17,110],"nice":false,"zero":false},"axis":{"values":[-10,10,30,50,70,90,110],"labelOverlap":false,"title":"Response Units"}}},
 "layer":[
 {"data":{"name":"B"},"mark":"line","encoding":{"detail":{"field":"c","type":"nominal"}}},
 {"data":{"values":[{"t":-43.6,"y":128,"s":"B"}]},"mark":{"type":"text","fontSize":17,"fontWeight":"bold"},"encoding":{"text":{"field":"s"}}},
 {"data":{"values":[{"t":58.7,"y":97.7,"on":"=  3.5x10³ M⁻¹s⁻¹","off":"= 0.14 s⁻¹","kd":"= 40 μM"}]},"layer":[
  {"mark":{"type":"text","text":["K","K","K"]}},
  {"mark":{"type":"text","fontSize":12,"dx":13,"dy":5,"text":["on","off","D"]}},
  {"mark":{"type":"text","dx":29},"encoding":{"text":{"field":"on"}}},
  {"mark":{"type":"text","dx":29,"dy":21},"encoding":{"text":{"field":"off"}}},
  {"mark":{"type":"text","dx":24,"dy":42},"encoding":{"text":{"field":"kd"}}}]}]},
{"width":204,"height":106,"title":"LC13 TCR/B8 EBNA",
 "encoding":{"x":{"field":"t","type":"quantitative","scale":{"domain":[-20,120],"nice":false,"zero":false},"axis":{"values":[-20,0,20,40,60,80,100,120],"labelOverlap":false,"title":"Time (s)"}},"y":{"field":"y","type":"quantitative","scale":{"domain":[-10,195],"nice":false,"zero":false},"axis":{"values":[-10,10,30,50,70,90,110,130,150],"labelOverlap":false,"title":"Response Units"}}},
 "layer":[
 {"data":{"name":"C"},"mark":"line","encoding":{"detail":{"field":"c","type":"nominal"}}},
 {"data":{"values":[{"t":-40.6,"y":211.5,"s":"C"}]},"mark":{"type":"text","fontSize":17,"fontWeight":"bold"},"encoding":{"text":{"field":"s"}}},
 {"data":{"values":[{"t":71.1,"y":152,"on":"=  8.7x10⁴ M⁻¹s⁻¹","off":"= 0.63 s⁻¹","kd":"= 7 μM"}]},"layer":[
  {"mark":{"type":"text","text":["K","K","K"]}},
  {"mark":{"type":"text","fontSize":12,"dx":13,"dy":5,"text":["on","off","D"]}},
  {"mark":{"type":"text","dx":29},"encoding":{"text":{"field":"on"}}},
  {"mark":{"type":"text","dx":29,"dy":21},"encoding":{"text":{"field":"off"}}},
  {"mark":{"type":"text","dx":24,"dy":42},"encoding":{"text":{"field":"kd"}}}]}]},
{"width":205,"height":102,"title":"AM3 TCR/A24 EBV",
 "encoding":{"x":{"field":"t","type":"quantitative","scale":{"domain":[-20,120],"nice":false,"zero":false},"axis":{"values":[-20,0,20,40,60,80,100,120],"labelOverlap":false,"title":"Time (s)"}},"y":{"field":"y","type":"quantitative","scale":{"domain":[-20,200],"nice":false,"zero":false},"axis":{"values":[-20,0,20,40,60,80,100,120,140,160,180,200],"labelOverlap":false,"title":"Response Units"}}},
 "layer":[
 {"data":{"name":"D"},"mark":"line","encoding":{"detail":{"field":"c","type":"nominal"}}},
 {"data":{"values":[{"t":-43.9,"y":216.6,"s":"D"}]},"mark":{"type":"text","fontSize":17,"fontWeight":"bold"},"encoding":{"text":{"field":"s"}}},
 {"data":{"values":[{"t":68.8,"y":161,"on":"=  7.3x10³ M⁻¹s⁻¹","off":"= 0.21 s⁻¹","kd":"= 28 μM"}]},"layer":[
  {"mark":{"type":"text","text":["K","K","K"]}},
  {"mark":{"type":"text","fontSize":12,"dx":13,"dy":5,"text":["on","off","D"]}},
  {"mark":{"type":"text","dx":29},"encoding":{"text":{"field":"on"}}},
  {"mark":{"type":"text","dx":29,"dy":21},"encoding":{"text":{"field":"off"}}},
  {"mark":{"type":"text","dx":24,"dy":42},"encoding":{"text":{"field":"kd"}}}]}]},
{"width":212,"height":102,"title":"JM22 TCR/A2 Flu",
 "encoding":{"x":{"field":"t","type":"quantitative","scale":{"domain":[-20,120],"nice":false,"zero":false},"axis":{"values":[-20,0,20,40,60,80,100,120],"labelOverlap":false,"title":"Time (s)"}},"y":{"field":"y","type":"quantitative","scale":{"domain":[-20,210],"nice":false,"zero":false},"axis":{"values":[0,20,40,60,80,100,120,140,160,180,200],"labelOverlap":false,"title":"Response Units"}}},
 "layer":[
 {"data":{"name":"E"},"mark":"line","encoding":{"detail":{"field":"c","type":"nominal"}}},
 {"data":{"values":[{"t":-39.8,"y":239.6,"s":"E"}]},"mark":{"type":"text","fontSize":17,"fontWeight":"bold"},"encoding":{"text":{"field":"s"}}},
 {"data":{"values":[{"t":56.7,"y":174,"on":"=  3.2x10⁴ M⁻¹s⁻¹","off":"= 0.15 s⁻¹","kd":"= 5 μM"}]},"layer":[
  {"mark":{"type":"text","text":["K","K","K"]}},
  {"mark":{"type":"text","fontSize":12,"dx":13,"dy":5,"text":["on","off","D"]}},
  {"mark":{"type":"text","dx":29},"encoding":{"text":{"field":"on"}}},
  {"mark":{"type":"text","dx":29,"dy":21},"encoding":{"text":{"field":"off"}}},
  {"mark":{"type":"text","dx":24,"dy":42},"encoding":{"text":{"field":"kd"}}}]}]},
{"width":207,"height":104,"title":"A6 TCR/A2 Tax",
 "encoding":{"x":{"field":"t","type":"quantitative","scale":{"domain":[-20,120],"nice":false,"zero":false},"axis":{"values":[-20,0,20,40,60,80,100,120],"labelOverlap":false,"title":null}},"y":{"field":"y","type":"quantitative","scale":{"domain":[-10,80],"nice":false,"zero":false},"axis":{"values":[-4,8,20,32,44,56,68,80],"labelOverlap":false,"title":"Response Units"}}},
 "layer":[
 {"data":{"name":"F"},"mark":"line","encoding":{"detail":{"field":"c","type":"nominal"}}},
 {"data":{"values":[{"t":-44.1,"y":92.4,"s":"F"}]},"mark":{"type":"text","fontSize":17,"fontWeight":"bold"},"encoding":{"text":{"field":"s"}}},
 {"data":{"values":[{"t":61.3,"y":74.8,"on":"=  2.9x10⁴ M⁻¹s⁻¹","off":"= 0.10 s⁻¹","kd":"= 4 μM"}]},"layer":[
  {"mark":{"type":"text","text":["K","K","K"]}},
  {"mark":{"type":"text","fontSize":12,"dx":13,"dy":5,"text":["on","off","D"]}},
  {"mark":{"type":"text","dx":29},"encoding":{"text":{"field":"on"}}},
  {"mark":{"type":"text","dx":29,"dy":21},"encoding":{"text":{"field":"off"}}},
  {"mark":{"type":"text","dx":24,"dy":42},"encoding":{"text":{"field":"kd"}}}]}]},
{"width":209,"height":100,"title":"GRB TCR/B27 Flu",
 "encoding":{"x":{"field":"t","type":"quantitative","scale":{"domain":[-20,120],"nice":false,"zero":false},"axis":{"values":[-20,0,20,40,60,80,100,120],"labelOverlap":false,"title":"Time (s)"}},"y":{"field":"y","type":"quantitative","scale":{"domain":[-50,355],"nice":false,"zero":false},"axis":{"values":[-50,-10,30,70,110,150,190,230,270,310,350],"labelOverlap":false,"title":"Response Units"}}},
 "layer":[
 {"data":{"name":"G"},"mark":"line","encoding":{"detail":{"field":"c","type":"nominal"}}},
 {"data":{"values":[{"t":-40.1,"y":420,"s":"G"}]},"mark":{"type":"text","fontSize":17,"fontWeight":"bold"},"encoding":{"text":{"field":"s"}}},
 {"data":{"values":[{"t":78.7,"y":289,"on":"=  3.9x10⁴ M⁻¹s⁻¹","off":"= 0.09 s⁻¹","kd":"= 3 μM"}]},"layer":[
  {"mark":{"type":"text","text":["K","K","K"]}},
  {"mark":{"type":"text","fontSize":12,"dx":13,"dy":5,"text":["on","off","D"]}},
  {"mark":{"type":"text","dx":29},"encoding":{"text":{"field":"on"}}},
  {"mark":{"type":"text","dx":29,"dy":21},"encoding":{"text":{"field":"off"}}},
  {"mark":{"type":"text","dx":24,"dy":42},"encoding":{"text":{"field":"kd"}}}]}]},
{"width":203,"height":107,"title":"MAW13 TCR/DR3 M-HSP",
 "encoding":{"x":{"field":"t","type":"quantitative","scale":{"domain":[-20,120],"nice":false,"zero":false},"axis":{"values":[-20,0,20,40,60,80,100,120],"labelOverlap":false,"title":"Time (s)"}},"y":{"field":"y","type":"quantitative","scale":{"domain":[-50,250],"nice":false,"zero":false},"axis":{"values":[-50,0,50,100,150,200,250],"labelOverlap":false,"title":"Response Units"}}},
 "layer":[
 {"data":{"name":"H"},"mark":"line","encoding":{"detail":{"field":"c","type":"nominal"}}},
 {"data":{"values":[{"t":-46.4,"y":276,"s":"H"}]},"mark":{"type":"text","fontSize":17,"fontWeight":"bold"},"encoding":{"text":{"field":"s"}}},
 {"data":{"values":[{"t":70.6,"y":206,"on":"=  4.0x10³ M⁻¹s⁻¹","off":"= 0.12 s⁻¹","kd":"= 30 μM"}]},"layer":[
  {"mark":{"type":"text","text":["K","K","K"]}},
  {"mark":{"type":"text","fontSize":12,"dx":13,"dy":5,"text":["on","off","D"]}},
  {"mark":{"type":"text","dx":29},"encoding":{"text":{"field":"on"}}},
  {"mark":{"type":"text","dx":29,"dy":21},"encoding":{"text":{"field":"off"}}},
  {"mark":{"type":"text","dx":24,"dy":42},"encoding":{"text":{"field":"kd"}}}]}]},
{"width":211,"height":105,"title":"AH1.23 TCR/DR4 C-HSP",
 "encoding":{"x":{"field":"t","type":"quantitative","scale":{"domain":[-20,120],"nice":false,"zero":false},"axis":{"values":[-20,0,20,40,60,80,100,120],"labelOverlap":false,"title":"Time (s)"}},"y":{"field":"y","type":"quantitative","scale":{"domain":[-20,100],"nice":false,"zero":false},"axis":{"values":[-20,0,20,40,60,80,100],"labelOverlap":false,"title":"Response Units"}}},
 "layer":[
 {"data":{"name":"I"},"mark":"line","encoding":{"detail":{"field":"c","type":"nominal"}}},
 {"data":{"values":[{"t":-37.7,"y":112,"s":"I"}]},"mark":{"type":"text","fontSize":17,"fontWeight":"bold"},"encoding":{"text":{"field":"s"}}},
 {"data":{"values":[{"t":58.6,"y":81,"on":"=  4.4x10³ M⁻¹s⁻¹","off":"= 0.16 s⁻¹","kd":"= 36 μM"}]},"layer":[
  {"mark":{"type":"text","text":["K","K","K"]}},
  {"mark":{"type":"text","fontSize":12,"dx":13,"dy":5,"text":["on","off","D"]}},
  {"mark":{"type":"text","dx":29},"encoding":{"text":{"field":"on"}}},
  {"mark":{"type":"text","dx":29,"dy":21},"encoding":{"text":{"field":"off"}}},
  {"mark":{"type":"text","dx":24,"dy":42},"encoding":{"text":{"field":"kd"}}}]}]},
{"width":207,"height":105,"title":"2E11 TCR/DR2 MBP",
 "encoding":{"x":{"field":"t","type":"quantitative","scale":{"domain":[-20,120],"nice":false,"zero":false},"axis":{"values":[-20,0,20,40,60,80,100,120],"labelOverlap":false,"title":"Time (s)"}},"y":{"field":"y","type":"quantitative","scale":{"domain":[-20,120],"nice":false,"zero":false},"axis":{"values":[-20,0,20,40,60,80,100,120],"labelOverlap":false,"title":"Response Units"}}},
 "layer":[
 {"data":{"name":"K"},"mark":"line","encoding":{"detail":{"field":"c","type":"nominal"}}},
 {"data":{"values":[{"t":-43.7,"y":135.5,"s":"K"}]},"mark":{"type":"text","fontSize":17,"fontWeight":"bold"},"encoding":{"text":{"field":"s"}}},
 {"data":{"values":[{"t":67,"y":107.5,"on":"=  5.9x10³ M⁻¹s⁻¹","off":"= 0.73 s⁻¹","kd":"= 123 μM"}]},"layer":[
  {"mark":{"type":"text","text":["K","K","K"]}},
  {"mark":{"type":"text","fontSize":12,"dx":13,"dy":5,"text":["on","off","D"]}},
  {"mark":{"type":"text","dx":29},"encoding":{"text":{"field":"on"}}},
  {"mark":{"type":"text","dx":29,"dy":21},"encoding":{"text":{"field":"off"}}},
  {"mark":{"type":"text","dx":24,"dy":42},"encoding":{"text":{"field":"kd"}}}]}]}
]},
{"width":220,"height":104,"title":"1A12 TCR/DR2 MBP",
 "encoding":{"x":{"field":"t","type":"quantitative","scale":{"domain":[-29.5,121],"nice":false,"zero":false},"axis":{"values":[-20,0,20,40,60,80,100,120],"labelOverlap":false,"title":"Time (s)"}},"y":{"field":"y","type":"quantitative","scale":{"domain":[-20,160],"nice":false,"zero":false},"axis":{"values":[-20,0,20,40,60,80,100,120,140,160],"labelOverlap":false,"title":"Response Units"}}},
 "layer":[
 {"data":{"name":"J"},"mark":"line","encoding":{"detail":{"field":"c","type":"nominal"}}},
 {"data":{"values":[{"t":-48.5,"y":193,"s":"J"}]},"mark":{"type":"text","fontSize":17,"fontWeight":"bold"},"encoding":{"text":{"field":"s"}}},
 {"data":{"values":[{"t":65.4,"y":129.5,"on":"=  2.1x10³ M⁻¹s⁻¹","off":"= 0.17 s⁻¹","kd":"= 81 μM"}]},"layer":[
  {"mark":{"type":"text","text":["K","K","K"]}},
  {"mark":{"type":"text","fontSize":12,"dx":13,"dy":5,"text":["on","off","D"]}},
  {"mark":{"type":"text","dx":29},"encoding":{"text":{"field":"on"}}},
  {"mark":{"type":"text","dx":29,"dy":21},"encoding":{"text":{"field":"off"}}},
  {"mark":{"type":"text","dx":24,"dy":42},"encoding":{"text":{"field":"kd"}}}]}]}
]
}
